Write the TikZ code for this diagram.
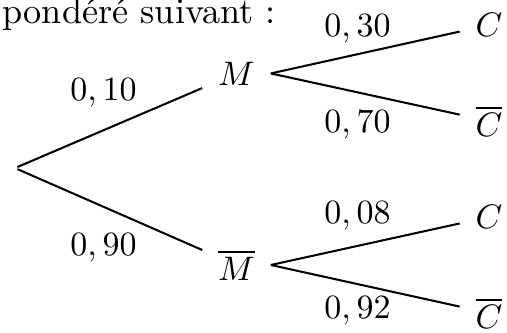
\documentclass[tikz,border=0pt]{standalone}
\usepackage{amsmath,amssymb}
\usepackage{tikz}
\usetikzlibrary{positioning,calc}
\tikzset{
  ev/.style={inner sep=4.5pt},
  wt/.style={anchor=base},
  br/.style={semithick}
}

\begin{document}
\begin{tikzpicture}[x=1cm, y=1cm]
\useasboundingbox (0,0) rectangle (5.241,3.432);
% ---------------- heading ----------------
\node[anchor=base west, inner sep=0pt, font=\fontsize{10.65}{12}\selectfont] (head) at (0.021,3.185) {pondéré suivant~:};
% ---------------- events ----------------
\node[inner sep=0pt] (root) at (0.155,1.695) {};
\node[ev] (M)  at (2.445,2.673) {$M$};
\node[ev] (Mb) at (2.445,0.693) {$\overline{M}$};
\node[ev] (C1)  at (5.055,3.173) {$C$};
\node[ev] (Cb1) at (5.055,2.181) {$\overline{C}$};
\node[ev] (C2)  at (5.055,1.189) {$C$};
\node[ev] (Cb2) at (5.055,0.196) {$\overline{C}$};
% ---------------- branches ----------------
\draw[br] (root) -- (M);
\draw[br] (root) -- (Mb);
\draw[br] (M.east) -- (C1);
\draw[br] (M.east) -- (Cb1);
\draw[br] (Mb.east) -- (C2);
\draw[br] (Mb.east) -- (Cb2);
% ---------------- weights ----------------
\node[wt] (p1) at (1.070,2.398) {$0,10$};
\node[wt] (p2) at (1.070,0.796) {$0,90$};
\node[wt] (p3) at (3.696,3.060) {$0,30$};
\node[wt] (p4) at (3.696,2.067) {$0,70$};
\node[wt] (p5) at (3.696,1.127) {$0,08$};
\node[wt] (p6) at (3.696,0.145) {$0,92$};
\end{tikzpicture}
\end{document}
